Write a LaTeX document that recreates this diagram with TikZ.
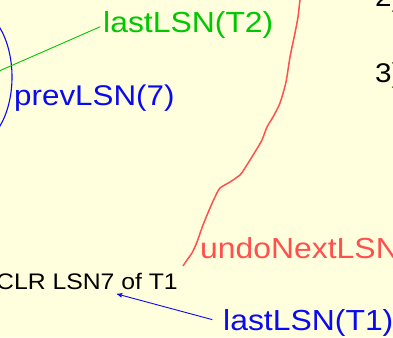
\documentclass[tikz,border=0pt]{standalone}
\usepackage{fontspec}
\setmainfont{Liberation Sans}
\usetikzlibrary{arrows}
\definecolor{slidebg}{RGB}{255,255,221}
\definecolor{lsnblue}{RGB}{10,10,240}
\definecolor{lsngreen}{RGB}{0,200,0}
\definecolor{lsnred}{RGB}{255,80,80}
\newcommand\wtxt[1]{\scalebox{1.1}[1]{#1}}

\begin{document}
\begin{tikzpicture}[x=1pt, y=-1pt,
  lbl/.style={anchor=base west, inner sep=0, font=\fontsize{29}{34}\selectfont}]
\useasboundingbox (0,0) rectangle (393,337);
\clip (0,0) rectangle (393,337);
\fill[slidebg] (0,0) rectangle (393,337);
\draw[lsnblue, line width=1.1pt] (-30,77) ellipse [x radius=42, y radius=70];
\node[lbl, lsngreen] (t2) at (103,33) {\wtxt{lastLSN(T2)}};
\node[lbl, lsnblue, font=\fontsize{28.5}{34}\selectfont] (prev) at (14,105) {\wtxt{prevLSN(7)}};
\node[lbl, lsnred] (undo) at (200,258) {\wtxt{undoNextLSN}};
\node[lbl, lsnblue] (t1) at (223,330) {\wtxt{lastLSN(T1)}};
\node[lbl, font=\fontsize{22.5}{27}\selectfont] (clr) at (-4,289) {\wtxt{CLR LSN7 of T1}};
\foreach \n/\y in {2/7,3/82}
  \node[lbl, font=\fontsize{27}{32}\selectfont] (item\n) at (375,\y) {\wtxt{\n)}};
\coordinate (g0) at (-10,75);
\draw[lsngreen, line width=0.9pt, shorten >=3pt] (g0) -- (t2.west);
\coordinate (clrtip) at (117,294);
\draw[lsnblue, line width=0.9pt, ->, >=stealth', shorten <=11pt] (t1.west) -- (clrtip);
\draw[lsnred, line width=1.5pt] plot[smooth, tension=0.4] coordinates {
  (302,-5) (300,0) (298,17) (295,33) (290,57) (286,82) (280,103) (273,117)
  (267,127) (262,140) (255,152) (245,168) (240,175) (230,182) (220,188)
  (215,197) (210,208) (203,225) (197,242) (192,253) (187,260) (183,266)};
\end{tikzpicture}
\end{document}
